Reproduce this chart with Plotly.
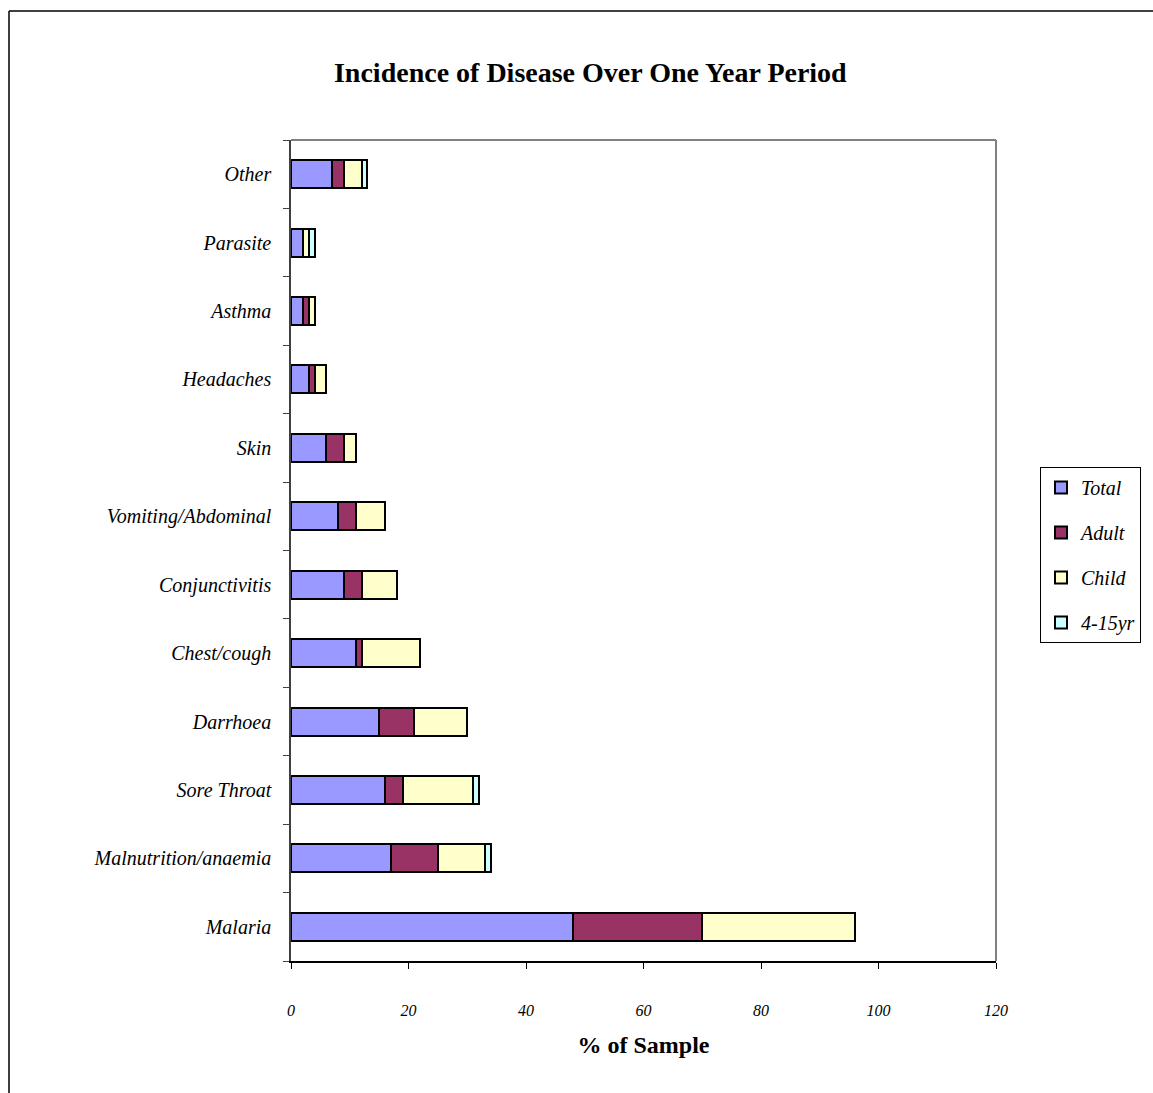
import plotly.graph_objects as go

# Disease categories, bottom to top
categories = ["Malaria", "Malnutrition/anaemia", "Sore Throat", "Darrhoea",
              "Chest/cough", "Conjunctivitis", "Vomiting/Abdominal", "Skin",
              "Headaches", "Asthma", "Parasite", "Other"]

# Percentage of sample per group
total = [48, 17, 16, 15, 11, 9, 8, 6, 3, 2, 2, 7]
adult = [22, 8, 3, 6, 1, 3, 3, 3, 1, 1, 0, 2]
child = [26, 8, 12, 9, 10, 6, 5, 2, 2, 1, 1, 3]
age_4_15 = [0, 1, 1, 0, 0, 0, 0, 0, 0, 0, 1, 1]

x_ticks = [0, 20, 40, 60, 80, 100, 120]

series = [
    ("Total", total, "#9999FF"),
    ("Adult", adult, "#993366"),
    ("Child", child, "#FFFFCC"),
    ("4-15yr", age_4_15, "#CCFFFF"),
]

fig = go.Figure()
for name, vals, color in series:
    fig.add_trace(go.Bar(
        y=categories, x=vals, name=name, orientation="h",
        marker=dict(color=color, line=dict(color="black", width=2)),
        legendgroup=name,
    ))

L, R, T, B = 291, 157, 140, 132
W, H = 1153, 1093
pw, ph = W - L - R, H - T - B

def px_x(p):
    return (p - L) / pw

def px_y(p):
    return (H - B - p) / ph

serif = "Liberation Serif, Times New Roman, serif"

fig.update_layout(
    width=W, height=H,
    margin=dict(l=L, r=R, t=T, b=B),
    barmode="stack", bargap=0.59,
    paper_bgcolor="white", plot_bgcolor="white",
    title=dict(text="<b>Incidence of Disease Over One Year Period</b>",
               x=0.512, xanchor="center", y=1 - 72 / H, yanchor="middle",
               font=dict(family=serif, size=28, color="black")),
    xaxis=dict(range=[0, 120], tickvals=x_ticks, ticks="outside", ticklen=6,
               tickcolor="black", showgrid=False, zeroline=False,
               showline=True, linecolor="black", linewidth=1.5,
               ticklabelstandoff=28,
               tickfont=dict(family=serif, size=16, color="black", style="italic"),
               title=dict(text="<b>% of Sample</b>", standoff=18,
                          font=dict(family=serif, size=24, color="black"))),
    yaxis=dict(type="category", tickson="boundaries", ticks="outside", ticklen=6,
               tickcolor="#404040", showgrid=False, showline=True,
               linecolor="#404040", linewidth=1.5, ticklabelstandoff=14,
               tickfont=dict(family=serif, size=20, color="black", style="italic")),
    legend=dict(x=px_x(1040), y=px_y(467), xanchor="left", yanchor="top",
                bordercolor="black", borderwidth=1, bgcolor="white",
                traceorder="grouped", tracegroupgap=16,
                font=dict(family=serif, size=20, color="black", style="italic"),
                itemwidth=30),
    shapes=[
        # gray frame on the top and right of the plot area
        dict(type="line", xref="paper", yref="paper", x0=0, x1=1, y0=1, y1=1,
             line=dict(color="#808080", width=2)),
        dict(type="line", xref="paper", yref="paper", x0=1, x1=1, y0=0, y1=1,
             line=dict(color="#808080", width=2)),
        # outer chart border
        dict(type="line", xref="paper", yref="paper",
             x0=px_x(9), x1=px_x(9), y0=px_y(1110), y1=px_y(11),
             line=dict(color="black", width=1.5)),
        dict(type="line", xref="paper", yref="paper",
             x0=px_x(9), x1=px_x(1170), y0=px_y(11), y1=px_y(11),
             line=dict(color="black", width=1.5)),
    ],
)

fig.write_html("out.html")
